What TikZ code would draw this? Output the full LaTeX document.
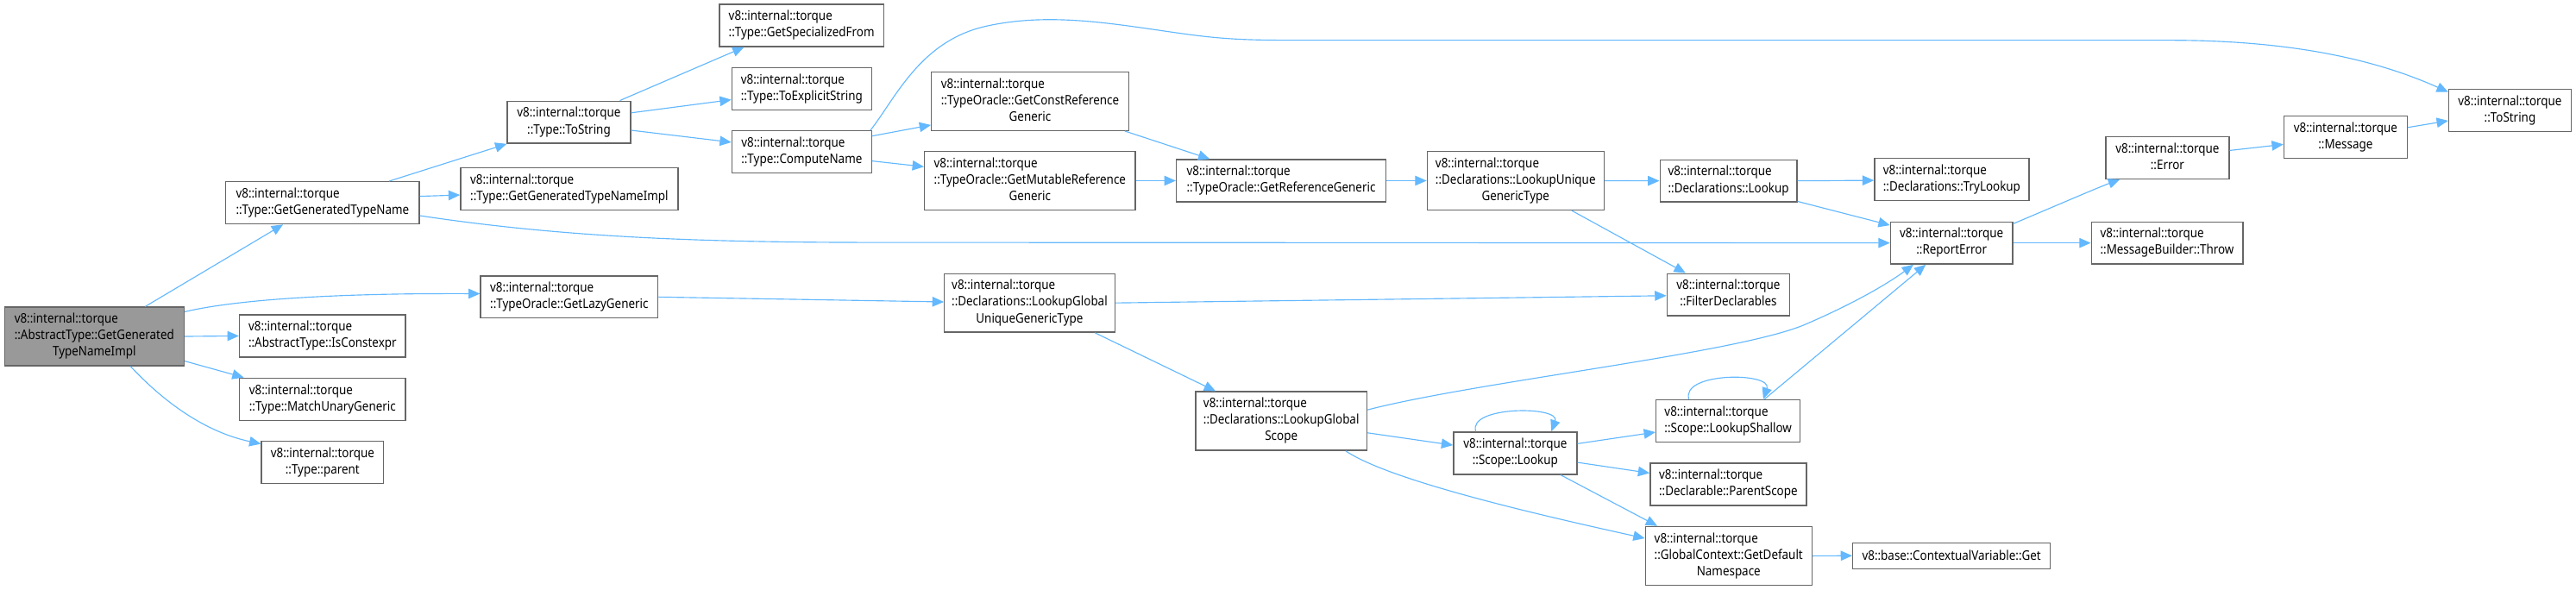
\documentclass[tikz,border=0pt]{standalone}
\usepackage{fontspec}
\setmainfont[FakeStretch=0.88]{Noto Sans}
\usetikzlibrary{arrows.meta}
\definecolor{edgeblue}{HTML}{63B8FF}
\definecolor{boxgray}{HTML}{666666}
\definecolor{maingray}{HTML}{999999}
\newcommand{\lbtwo}[2]{\begin{tabular}{@{}l@{}}#1\\\multicolumn{1}{@{}c@{}}{#2}\end{tabular}}
\newcommand{\lbthree}[3]{\begin{tabular}{@{}l@{}}#1\\#2\\\multicolumn{1}{@{}c@{}}{#3}\end{tabular}}
\newcommand{\vt}{v8::internal::torque}
\tikzset{
  box/.style={draw=boxgray, fill=white, line width=0.7pt, inner xsep=0pt, inner ysep=0pt,
    font=\fontsize{8}{10}\selectfont, anchor=center},
  hone/.style={minimum height=15.7pt},
  htwo/.style={minimum height=25.7pt},
  hthree/.style={minimum height=35.7pt},
  mainbox/.style={box, fill=maingray},
  edge/.style={draw=edgeblue, line width=0.6pt, -{Triangle[length=7pt,width=6pt]}},
}
\begin{document}
\begin{tikzpicture}[x=1pt,y=1pt]
\useasboundingbox (0,0) rectangle (1568,-359);
% nodes
\node[mainbox,hthree,minimum width=109.3pt] (main) at (57.4,-204.8) {\lbthree{\vt}{::AbstractType::GetGenerated}{TypeNameImpl}};
\node[box,htwo,minimum width=117.9pt] (ggtn) at (196.3,-123.5) {\lbtwo{\vt}{::Type::GetGeneratedTypeName}};
\node[box,htwo,minimum width=75pt] (tostr) at (346.3,-74.4) {\lbtwo{\vt}{::Type::ToString}};
\node[box,htwo,minimum width=132.3pt] (ggtni) at (346.5,-114.9) {\lbtwo{\vt}{::Type::GetGeneratedTypeNameImpl}};
\node[box,htwo,minimum width=99.8pt] (gsf) at (487.9,-15.5) {\lbtwo{\vt}{::Type::GetSpecializedFrom}};
\node[box,htwo,minimum width=85pt] (tes) at (488,-54) {\lbtwo{\vt}{::Type::ToExplicitString}};
\node[box,htwo,minimum width=85pt] (cn) at (488,-92.5) {\lbtwo{\vt}{::Type::ComputeName}};
\node[box,hthree,minimum width=120pt] (gcrg) at (627,-61.6) {\lbthree{\vt}{::TypeOracle::GetConstReference}{Generic}};
\node[box,hthree,minimum width=128.3pt] (gmrg) at (626.9,-110) {\lbthree{\vt}{::TypeOracle::GetMutableReference}{Generic}};
\node[box,htwo,minimum width=127.5pt] (grg) at (779.8,-110) {\lbtwo{\vt}{::TypeOracle::GetReferenceGeneric}};
\node[box,hthree,minimum width=107.6pt] (lugt) at (922.5,-110) {\lbthree{\vt}{::Declarations::LookupUnique}{GenericType}};
\node[box,htwo,minimum width=83.4pt] (dlookup) at (1052.1,-110.1) {\lbtwo{\vt}{::Declarations::Lookup}};
\node[box,htwo,minimum width=94pt] (trylookup) at (1188,-109.3) {\lbtwo{\vt}{::Declarations::TryLookup}};
\node[box,htwo,minimum width=74.3pt] (reporterr) at (1187.9,-147.9) {\lbtwo{\vt}{::ReportError}};
\node[box,htwo,minimum width=75pt] (err) at (1319.3,-96) {\lbtwo{\vt}{::Error}};
\node[box,htwo,minimum width=75pt] (msg) at (1427.7,-83.5) {\lbtwo{\vt}{::Message}};
\node[box,htwo,minimum width=74.5pt] (tstr) at (1527.8,-67.2) {\lbtwo{\vt}{::ToString}};
\node[box,htwo,minimum width=92.2pt] (throw) at (1319.1,-147.9) {\lbtwo{\vt}{::MessageBuilder::Throw}};
\node[box,htwo,minimum width=74.7pt] (filter) at (1052,-179.4) {\lbtwo{\vt}{::FilterDeclarables}};
\node[box,htwo,minimum width=107.9pt] (glg) at (346.5,-180.8) {\lbtwo{\vt}{::TypeOracle::GetLazyGeneric}};
\node[box,hthree,minimum width=103.7pt] (lgugt) at (626.7,-184.4) {\lbthree{\vt}{::Declarations::LookupGlobal}{UniqueGenericType}};
\node[box,htwo,minimum width=101.1pt] (isce) at (196.3,-204.5) {\lbtwo{\vt}{::AbstractType::IsConstexpr}};
\node[box,htwo,minimum width=101.1pt] (mug) at (196.3,-243) {\lbtwo{\vt}{::Type::MatchUnaryGeneric}};
\node[box,htwo,minimum width=74.3pt] (parent) at (196.3,-281.4) {\lbtwo{\vt}{::Type::parent}};
\node[box,hthree,minimum width=104.3pt] (lgs) at (779.9,-256.3) {\lbthree{\vt}{::Declarations::LookupGlobal}{Scope}};
\node[box,htwo,minimum width=75.1pt] (slookup) at (922.3,-275.9) {\lbtwo{\vt}{::Scope::Lookup}};
\node[box,htwo,minimum width=87.8pt] (lshallow) at (1051.9,-256.2) {\lbtwo{\vt}{::Scope::LookupShallow}};
\node[box,htwo,minimum width=95.1pt] (pscope) at (1052,-294.9) {\lbtwo{\vt}{::Declarable::ParentScope}};
\node[box,hthree,minimum width=101.3pt] (gdn) at (1052.2,-338.4) {\lbthree{\vt}{::GlobalContext::GetDefault}{Namespace}};
\node[box,hone,minimum width=120.2pt] (cvget) at (1187.9,-338.3) {v8::base::ContextualVariable::Get};
% edges
\draw[edge] ([xshift=31pt]main.north) -- ([xshift=-24pt]ggtn.south);
\draw[edge] ([yshift=15pt]main.east) .. controls (150,-181) and (220,-178.5) .. ([yshift=2pt]glg.west);
\draw[edge] (main.east) -- (isce.west);
\draw[edge] ([yshift=-15pt]main.east) -- ([xshift=3pt]mug.north west);
\draw[edge] ([xshift=22pt]main.south) .. controls (100,-245) and (125,-263) .. ([yshift=-2pt]parent.north west);
\draw[edge] ([xshift=40.5pt]ggtn.north) -- (tostr.south west);
\draw[edge] ([yshift=4pt]ggtn.east) -- ([yshift=-3.8pt]ggtni.west);
\draw[edge] ([yshift=-7.8pt]ggtn.east) .. controls (340,-144) and (420,-147.4) .. (525,-147.6) -- (reporterr.west);
\draw[edge] ([xshift=31pt]tostr.north) -- ([xshift=-35pt]gsf.south);
\draw[edge] ([yshift=5.7pt]tostr.east) -- ([yshift=-6.7pt]tes.west);
\draw[edge] ([yshift=-4.9pt]tostr.east) -- ([yshift=5.9pt]cn.west);
\draw[edge] ([xshift=-1pt]cn.north east) .. controls (545,-60) and (560,-25) .. (600,-16)
  .. controls (640,-7) and (680,-15) .. (720,-20.5) .. controls (745,-24) and (760,-24.5) .. (790,-24.5)
  -- (1320,-24.5) .. controls (1400,-24.5) and (1450,-38) .. ([yshift=-2pt]tstr.north west);
\draw[edge] ([yshift=9.7pt]cn.east) -- ([yshift=-14.5pt]gcrg.west);
\draw[edge] ([yshift=-5.5pt]cn.east) -- ([yshift=8.5pt]gmrg.west);
\draw[edge] ([xshift=57.7pt]gcrg.south) -- ([xshift=-43.4pt]grg.north);
\draw[edge] (gmrg.east) -- (grg.west);
\draw[edge] (grg.east) -- (lugt.west);
\draw[edge] (lugt.east) -- (dlookup.west);
\draw[edge] ([xshift=34.2pt]lugt.south) -- ([xshift=-26pt]filter.north);
\draw[edge] (dlookup.east) -- ([yshift=-0.5pt]trylookup.west);
\draw[edge] ([yshift=0.7pt]dlookup.south east) -- ([yshift=-2.4pt]reporterr.north west);
\draw[edge] ([yshift=-1.5pt]reporterr.north east) .. controls (1252,-125) and (1275,-115) .. ([xshift=-29pt]err.south);
\draw[edge] (reporterr.east) -- (throw.west);
\draw[edge] ([yshift=4.4pt]err.east) -- ([yshift=-4.4pt]msg.west);
\draw[edge] ([yshift=5.9pt]msg.east) -- ([yshift=-6.3pt]tstr.west);
\draw[edge] (glg.east) -- ([yshift=0.6pt]lgugt.west);
\draw[edge] (lgugt.east) -- ([yshift=-0.6pt]filter.west);
\draw[edge] ([xshift=39.8pt]lgugt.south) -- ([xshift=-40pt]lgs.north);
\draw[edge] ([yshift=6.8pt]lgs.east) .. controls (900,-232) and (1060,-215) .. (1100,-197)
  .. controls (1130,-184) and (1150,-172) .. ([xshift=-23.2pt]reporterr.south);
\draw[edge] ([xshift=22.1pt]lshallow.north) -- ([xshift=-15.7pt]reporterr.south);
\draw[edge] ([yshift=-7.2pt]lgs.east) -- ([yshift=4.9pt]slookup.west);
\draw[edge] ([xshift=39.2pt]lgs.south) .. controls (845,-292) and (930,-312) .. ([yshift=10.7pt]gdn.west);
\draw[edge] ([xshift=-24pt]slookup.north) .. controls (893,-247) and (950,-247) .. ([xshift=22pt]slookup.north);
\draw[edge] ([xshift=-23.9pt]lshallow.north) .. controls (1023,-226.4) and (1079,-226.4) .. ([xshift=21.4pt]lshallow.north);
\draw[edge] ([yshift=5.8pt]slookup.east) -- ([yshift=-6.9pt]lshallow.west);
\draw[edge] ([yshift=-5.6pt]slookup.east) -- ([yshift=6.9pt]pscope.west);
\draw[edge] ([xshift=27.6pt]slookup.south) -- ([xshift=-43.4pt]gdn.north);
\draw[edge] (gdn.east) -- (cvget.west);
\end{tikzpicture}
\end{document}
